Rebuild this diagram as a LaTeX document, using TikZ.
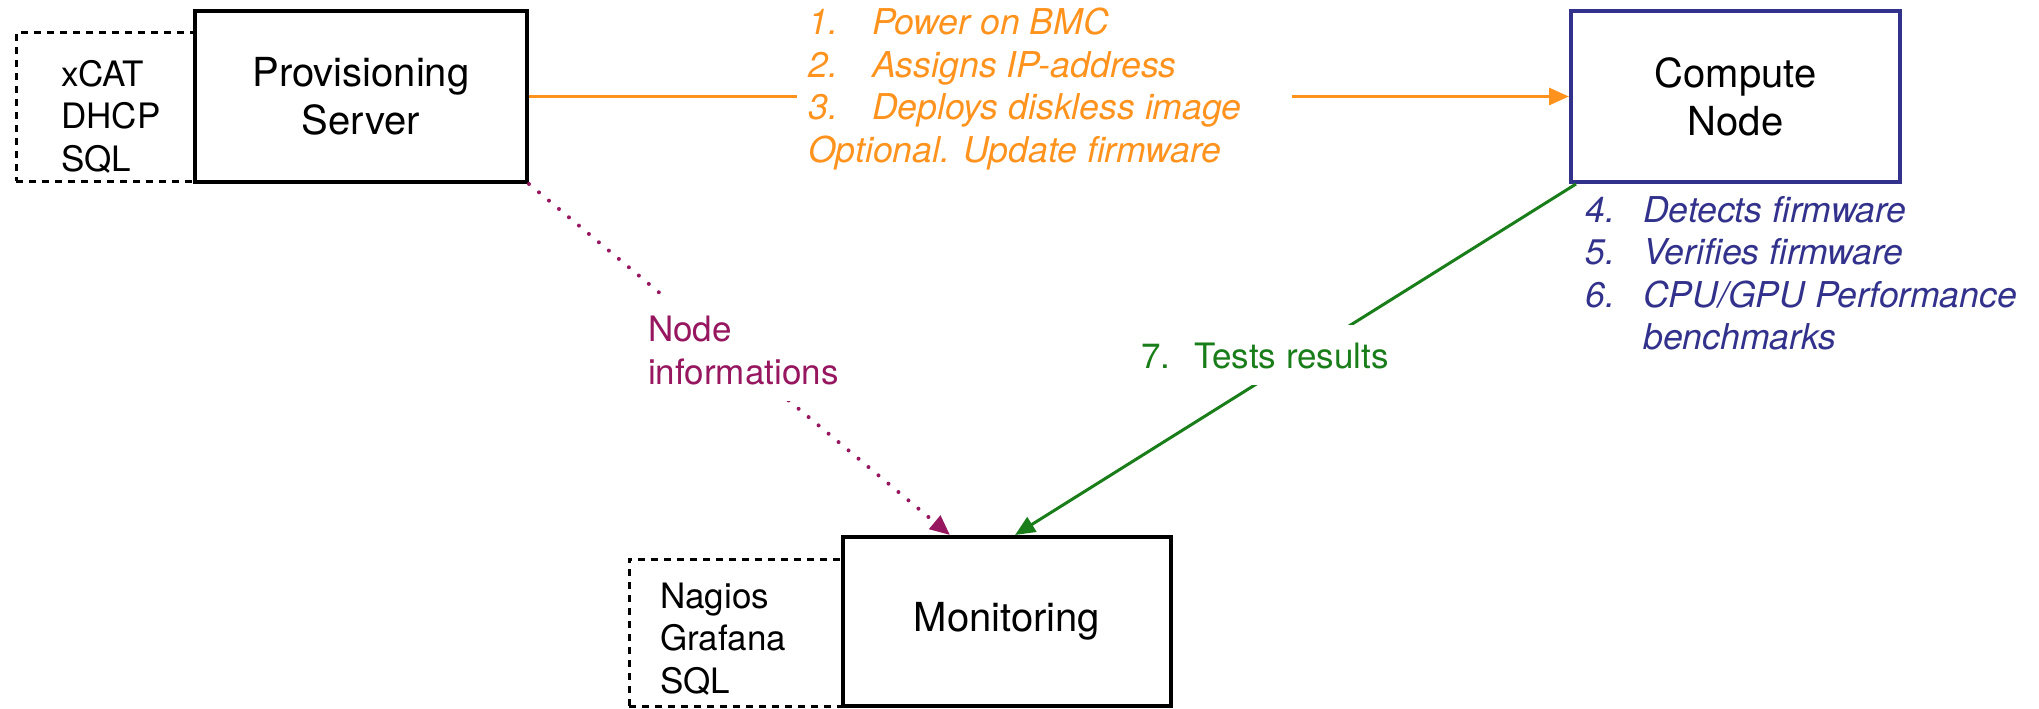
\documentclass[tikz,border=0pt]{standalone}
\usepackage{fontspec}
\setmainfont{TeX Gyre Heros}
\usetikzlibrary{arrows.meta,calc}
\definecolor{cOrange}{RGB}{255,147,30}
\definecolor{cBlue}{RGB}{50,50,140}
\definecolor{cPurple}{RGB}{150,22,95}
\definecolor{cGreen}{RGB}{25,125,25}
\newcommand\myboxfont{\fontsize{40}{48}\selectfont}
\newcommand\mylistfont{\fontsize{35}{42.5}\selectfont}
\newcommand\mystepfont{\fontsize{35.6}{42.5}\selectfont}
\begin{document}
\begin{tikzpicture}[x=1pt,y=-1pt,
  box/.style={draw=black, line width=4pt, fill=white, align=center, font=\myboxfont, inner sep=0pt},
  dbox/.style={draw=black, line width=3pt, dash pattern=on 7pt off 6pt, inner sep=0pt},
  lst/.style={anchor=base west, inner sep=0pt, font=\mylistfont},
  tip/.style={-{Triangle[length=20pt,width=17pt]}},
  oLine/.style={draw=cOrange, line width=3pt},
  pLine/.style={draw=cPurple, line width=4pt, line cap=round, dash pattern=on 0pt off 13pt, -{Triangle[length=20pt,width=17pt,line cap=butt]}},
  gLine/.style={draw=cGreen, line width=3pt, tip},
  lbl/.style={fill=white, inner xsep=4pt, inner ysep=4pt, anchor=base west, font=\mylistfont}]
\useasboundingbox (0,0) rectangle (2039,709);
% dashed side boxes
\node[dbox, minimum width=179pt, minimum height=148pt] (pdash) at (105.5,107) {};
\node[dbox, minimum width=214pt, minimum height=147pt] (mdash) at (736,632.5) {};
% main boxes
\node[box, minimum width=332pt, minimum height=171pt] (prov) at (361,96.5) {Provisioning\\Server};
\node[box, draw=cBlue, minimum width=329pt, minimum height=171pt] (comp) at (1735.5,96.5) {Compute\\Node};
\node[box, minimum width=328pt, minimum height=169pt] (mon) at (1007,621.5) {Monitoring};
% side lists
\node[lst] (plist) at (61,86) {\begin{tabular}[t]{@{}l@{}}xCAT\\DHCP\\SQL\end{tabular}};
\node[lst] (mlist) at (660,608) {\begin{tabular}[t]{@{}l@{}}Nagios\\Grafana\\SQL\end{tabular}};
% orange steps
\node[lst, text=cOrange, font=\mystepfont\itshape] (osteps) at (808,35) {\begin{tabular}[t]{@{}l@{}}
\makebox[64pt][l]{1.}Power on BMC\\
\makebox[64pt][l]{2.}Assigns IP-address\\
\makebox[64pt][l]{3.}Deploys diskless image\\
Optional. Update firmware\end{tabular}};
% blue steps
\node[lst, text=cBlue, font=\mystepfont\itshape] (bsteps) at (1585,222) {\begin{tabular}[t]{@{}l@{}}
\makebox[58pt][l]{4.}Detects firmware\\
\makebox[58pt][l]{5.}Verifies firmware\\
\makebox[58pt][l]{6.}CPU/GPU Performance\\
\makebox[58pt][l]{}benchmarks\end{tabular}};
% connectors
\coordinate (gapL) at (797,96.5);
\coordinate (gapR) at (1292,96.5);
\draw[oLine] (prov.east) -- (gapL);
\draw[oLine, tip] (gapR) -- (comp.west);
\draw[pLine] (prov.south east) -- ($(mon.north west)+(109,0)$);
\draw[gLine] ($(comp.south west)+(7,0)$) -- ($(mon.north west)+(174,0)$);
% connector labels
\node[lbl, text=cPurple] (plabel) at (644,341.5) {\begin{tabular}[t]{@{}l@{}}\rule{0pt}{42pt}Node\\informations\end{tabular}};
\node[lbl, text=cGreen] (glabel) at (1137,368) {\begin{tabular}[t]{@{}l@{}}\rule{0pt}{39pt}\makebox[53pt][l]{7.}Tests results\end{tabular}};
\end{tikzpicture}
\end{document}
